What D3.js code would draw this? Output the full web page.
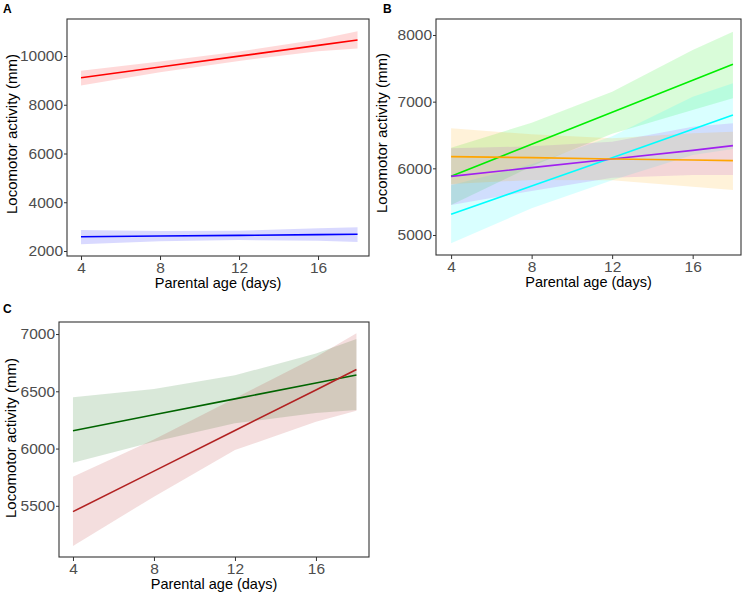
<!DOCTYPE html>
<html>
<head>
<meta charset="utf-8">
<script src="https://cdn.jsdelivr.net/npm/d3@7"></script>
<style>
  html, body { margin: 0; padding: 0; background: #fff; }
  svg { display: block; font-family: "Liberation Sans", Arial, sans-serif; }
</style>
</head>
<body>
<svg id="chart" width="747" height="595"></svg>
<script>
// ---------------- DATA ----------------
const ages = [4, 8, 12, 16, 18];
const xTicks = [4, 8, 12, 16];

// Panel A
const aRedFit   = [9110, 9552, 9994, 10435, 10656];
const aRedLow   = [8790, 9330, 9800, 10190, 10310];
const aRedUp    = [9400, 9770, 10180, 10680, 11020];
const aBlueFit  = [2587, 2615, 2643, 2671, 2685];
const aBlueLow  = [2280, 2400, 2450, 2420, 2370];
const aBlueUp   = [2860, 2820, 2830, 2930, 2970];
const aYTicks   = [2000, 4000, 6000, 8000, 10000];

// Panel B
const bGreenFit  = [5880, 6360, 6840, 7320, 7560];
const bGreenLow  = [5450, 6030, 6520, 6875, 7050];
const bGreenUp   = [6310, 6685, 7150, 7775, 8050];
const bCyanFit   = [5310, 5735, 6160, 6585, 6800];
const bCyanLow   = [4875, 5400, 5820, 6200, 6290];
const bCyanUp    = [5745, 6060, 6480, 7075, 7275];
const bPurpleFit = [5880, 6010, 6140, 6270, 6340];
const bPurpleLow = [5450, 5660, 5860, 5900, 5900];
const bPurpleUp  = [6300, 6330, 6400, 6625, 6675];
const bOrangeFit = [6175, 6160, 6140, 6125, 6115];
const bOrangeLow = [5765, 5825, 5820, 5725, 5675];
const bOrangeUp  = [6600, 6510, 6450, 6525, 6550];
const bYTicks    = [5000, 6000, 7000, 8000];

// Panel C
const cGreenFit = [6156, 6295, 6434, 6572, 6642];
const cGreenLow = [5877, 6060, 6220, 6310, 6337];
const cGreenUp  = [6447, 6520, 6640, 6830, 6956];
const cRedFit   = [5449, 5803, 6158, 6512, 6690];
const cRedLow   = [5150, 5580, 5987, 6234, 6330];
const cRedUp    = [5754, 6080, 6440, 6800, 7006];
const cYTicks   = [5500, 6000, 6500, 7000];

// ---------------- DRAW ----------------
const svg = d3.select("#chart");

const panels = [
  { label: "A", box: [67, 19, 369, 256], xDom: [3.29, 18.58], yDom: [1795, 11518], yTicks: aYTicks,
    labelPos: [3, 13], yTitleX: 17, yTitleY: 134,
    series: [
      { color: "#FF0000", fit: aRedFit, low: aRedLow, up: aRedUp },
      { color: "#0000FF", fit: aBlueFit, low: aBlueLow, up: aBlueUp }
    ] },
  { label: "B", box: [436, 19, 741, 255], xDom: [3.25, 18.4], yDom: [4700, 8240], yTicks: bYTicks,
    labelPos: [383, 13], yTitleX: 387, yTitleY: 133,
    series: [
      { color: "#00EE00", fit: bGreenFit, low: bGreenLow, up: bGreenUp },
      { color: "#00FFFF", fit: bCyanFit, low: bCyanLow, up: bCyanUp },
      { color: "#A020F0", fit: bPurpleFit, low: bPurpleLow, up: bPurpleUp },
      { color: "#FFA500", fit: bOrangeFit, low: bOrangeLow, up: bOrangeUp }
    ] },
  { label: "C", box: [59, 322, 369, 557], xDom: [3.31, 18.62], yDom: [5053, 7105], yTicks: cYTicks,
    labelPos: [3, 313], yTitleX: 16, yTitleY: 438,
    series: [
      { color: "#006400", fit: cGreenFit, low: cGreenLow, up: cGreenUp },
      { color: "#B22222", fit: cRedFit, low: cRedLow, up: cRedUp }
    ] }
];

panels.forEach((p, i) => {
  const [x0, y0, x1, y1] = p.box;
  const x = d3.scaleLinear().domain(p.xDom).range([x0, x1]);
  const y = d3.scaleLinear().domain(p.yDom).range([y1, y0]);

  const clipId = "clip" + i;
  svg.append("clipPath").attr("id", clipId)
    .append("rect").attr("x", x0).attr("y", y0).attr("width", x1 - x0).attr("height", y1 - y0);

  const g = svg.append("g").attr("clip-path", `url(#${clipId})`);

  // ribbons
  p.series.forEach(s => {
    const pts = ages.map((a, k) => ({ a, lo: s.low[k], hi: s.up[k] }));
    const area = d3.area().x(d => x(d.a)).y0(d => y(d.lo)).y1(d => y(d.hi));
    g.append("path").datum(pts).attr("d", area)
      .attr("fill", s.color).attr("fill-opacity", 0.15).attr("stroke", "none");
  });
  // lines
  p.series.forEach(s => {
    const pts = ages.map((a, k) => ({ a, v: s.fit[k] }));
    const line = d3.line().x(d => x(d.a)).y(d => y(d.v));
    g.append("path").datum(pts).attr("d", line)
      .attr("fill", "none").attr("stroke", s.color).attr("stroke-width", 1.6);
  });

  // axes
  const xAxis = d3.axisBottom(x).tickValues(xTicks).tickSize(4).tickPadding(2).tickFormat(d3.format("d"));
  const yAxis = d3.axisLeft(y).tickValues(p.yTicks).tickSize(3).tickPadding(1).tickFormat(d3.format("d"));
  const gx = svg.append("g").attr("transform", `translate(0,${y1})`).call(xAxis);
  const gy = svg.append("g").attr("transform", `translate(${x0},0)`).call(yAxis);
  [gx, gy].forEach(ax => {
    ax.select(".domain").remove();
    ax.selectAll(".tick line").attr("stroke", "#333333").attr("stroke-width", 1);
    ax.selectAll(".tick text").attr("fill", "#4D4D4D").style("font-size", "15.5px")
      .style("font-family", '"Liberation Sans", Arial, sans-serif');
  });

  // panel border
  svg.append("rect").attr("x", x0).attr("y", y0).attr("width", x1 - x0).attr("height", y1 - y0)
    .attr("fill", "none").attr("stroke", "#333333").attr("stroke-width", 1.1);

  // axis titles
  svg.append("text").attr("x", (x0 + x1) / 2).attr("y", y1 + 32)
    .attr("text-anchor", "middle").style("font-size", "14.5px").attr("fill", "#000")
    .text("Parental age (days)");
  svg.append("text")
    .attr("transform", `translate(${p.yTitleX},${p.yTitleY}) rotate(-90)`)
    .attr("text-anchor", "middle").style("font-size", "15px").attr("fill", "#000")
    .text("Locomotor activity (mm)");

  // panel label
  svg.append("text").attr("x", p.labelPos[0]).attr("y", p.labelPos[1])
    .style("font-size", "12px").style("font-weight", "bold").attr("fill", "#000")
    .text(p.label);
});
</script>
</body>
</html>
